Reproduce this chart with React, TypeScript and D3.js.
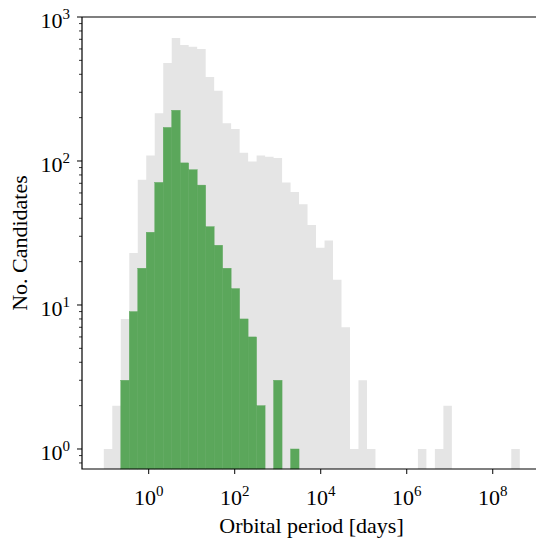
import { useEffect, useRef } from 'react';
import * as d3 from 'd3';

// log10 of the first bin edge and bin width (in decades)
const binStartLog = -1.044;
const binWidthLog = 0.1974;

// counts per bin, all candidates
const allCounts = [
  1, 2, 8, 23, 74, 109, 215, 479, 715, 639,
  622, 599, 383, 308, 183, 167, 114, 99, 109, 107,
  105, 71, 61, 50, 36, 25, 28, 15, 7, 1,
  3, 1, 0, 0, 0, 0, 0, 1, 0, 1,
  2, 0, 0, 0, 0, 0, 0, 0, 1,
];

// counts per bin, selected candidates
const selCounts = [
  0, 0, 3, 9, 18, 32, 71, 171, 225, 97,
  87, 68, 35, 26, 18, 13, 8, 6, 2, 0,
  3, 0, 1,
];

const xTicks = [0, 2, 4, 6, 8];
const yTicks = [0, 1, 2, 3];

const W = 536;
const H = 541;
const FONT = '"Liberation Serif", "DejaVu Serif", serif';

export default function App() {
  const svgRef = useRef<SVGSVGElement>(null);

  useEffect(() => {
    const svg = d3.select(svgRef.current);
    svg.selectAll('*').remove();

    const left = 82, right = 541, top = 17, bottom = 469;

    const x = d3.scaleLog().domain([Math.pow(10, -1.551), Math.pow(10, 9.122)]).range([left, right]);
    const y = d3.scaleLog().domain([Math.pow(10, -0.139), 1000]).range([bottom, top]);

    const edge = (i: number) => Math.pow(10, binStartLog + i * binWidthLog);

    // all candidates: one path so neighbouring bars show no seams
    const p = d3.path();
    allCounts.forEach((c, i) => {
      if (c <= 0) return;
      const x0 = x(edge(i));
      const x1 = x(edge(i + 1));
      p.rect(x0, y(c), x1 - x0, bottom - y(c));
    });
    svg.append('path')
      .attr('d', p.toString())
      .attr('fill', '#e5e5e5');

    // selected candidates
    svg.append('g')
      .selectAll('rect')
      .data(selCounts.map((c, i) => ({ c, i })).filter(d => d.c > 0))
      .join('rect')
      .attr('x', d => x(edge(d.i)))
      .attr('width', d => x(edge(d.i + 1)) - x(edge(d.i)))
      .attr('y', d => y(d.c))
      .attr('height', d => bottom - y(d.c))
      .attr('fill', '#5ba75b')
      .attr('stroke', '#5ba75b')
      .attr('stroke-width', 0.4);

    // spines
    svg.append('path')
      .attr('d', `M${left},${top}H${right}M${left},${top}V${bottom}H${right}`)
      .attr('fill', 'none')
      .attr('stroke', '#000')
      .attr('stroke-width', 1.2);

    // x ticks
    const xg = svg.append('g');
    xTicks.forEach(p => {
      const px = x(Math.pow(10, p));
      xg.append('line')
        .attr('x1', px).attr('x2', px)
        .attr('y1', bottom).attr('y2', bottom + 5)
        .attr('stroke', '#000').attr('stroke-width', 1);
      const t = xg.append('text')
        .attr('x', px)
        .attr('y', 505)
        .attr('text-anchor', 'middle')
        .style('font-family', FONT)
        .style('font-size', '22px');
      t.append('tspan').text('10');
      t.append('tspan').attr('dy', -9).style('font-size', '15px').text(String(p));
    });

    // y ticks (major + minor)
    const yg = svg.append('g');
    for (let p = -1; p <= 3; p++) {
      for (let m = 2; m <= 9; m++) {
        const v = m * Math.pow(10, p);
        if (v < y.domain()[0] || v > 1000) continue;
        const py = y(v);
        yg.append('line')
          .attr('x1', left - 3).attr('x2', left)
          .attr('y1', py).attr('y2', py)
          .attr('stroke', '#000').attr('stroke-width', 0.8);
      }
    }
    yTicks.forEach(p => {
      const py = y(Math.pow(10, p));
      yg.append('line')
        .attr('x1', left - 5).attr('x2', left)
        .attr('y1', py).attr('y2', py)
        .attr('stroke', '#000').attr('stroke-width', 1);
      const t = yg.append('text')
        .attr('x', 70)
        .attr('y', py + 11)
        .attr('text-anchor', 'end')
        .style('font-family', FONT)
        .style('font-size', '22px');
      t.append('tspan').text('10');
      t.append('tspan').attr('dy', -9).style('font-size', '15px').text(String(p));
    });

    // axis labels
    svg.append('text')
      .attr('x', (left + right) / 2)
      .attr('y', 533)
      .attr('text-anchor', 'middle')
      .style('font-family', FONT)
      .style('font-size', '22px')
      .text('Orbital period [days]');

    svg.append('text')
      .attr('transform', `translate(27,${(top + bottom) / 2}) rotate(-90)`)
      .attr('text-anchor', 'middle')
      .style('font-family', FONT)
      .style('font-size', '22px')
      .text('No. Candidates');
  }, []);

  return (
    <svg
      ref={svgRef}
      width={W}
      height={H}
      style={{ position: 'absolute', left: 0, top: 0, background: '#fff' }}
    />
  );
}
